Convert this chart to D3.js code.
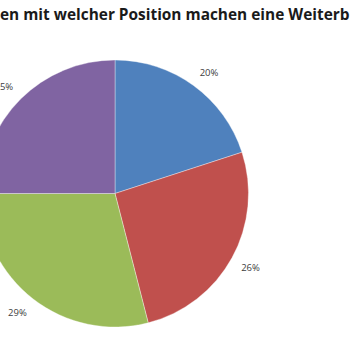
<!DOCTYPE html>
<html><head><meta charset="utf-8">
<script src="https://cdn.jsdelivr.net/npm/d3@7"></script>
<style>html,body{margin:0;padding:0;background:#fff;overflow:hidden}svg{display:block}</style>
</head><body>
<svg id="chart" width="350" height="350"></svg>
<script>
const titleText = "Wie viele Frauen mit welcher Position machen eine Weiterbildung?";
const titleHiddenLeft = "Wie viele Frau";
const titleVisible = "en mit welcher Position machen eine Weiterb";
const categories = ["Position A", "Position B", "Position C", "Position D"];
const values = [20, 26, 29, 25];
const colors = ["#4F81BD", "#C0504D", "#9BBB59", "#8064A2"];

const svg = d3.select("#chart");
const W = 350;
const cx = 115, cy = 193.5, r = 133.5, labelR = 144;

function measure(str, size) {
  const t = svg.append("text").attr("font-family", "Open Sans").attr("font-weight", "bold")
    .attr("font-size", size).text(str);
  const w = t.node().getComputedTextLength();
  t.remove();
  return w;
}
// title: sized and shifted so that the visible part spans the window width
const fs = 13 * W / measure(titleVisible, 13);
const off = measure(titleHiddenLeft, fs);
svg.append("text").attr("x", -off).attr("y", 20)
  .attr("font-family", "Open Sans").attr("font-weight", "bold").attr("font-size", fs)
  .attr("fill", "#1a1a1a").text(titleText);

const pie = d3.pie().sort(null).value(d => d.v);
const data = pie(categories.map((c, i) => ({c, v: values[i]})));
const arc = d3.arc().innerRadius(0).outerRadius(r);
const labelArc = d3.arc().innerRadius(labelR).outerRadius(labelR);

const g = svg.append("g").attr("transform", `translate(${cx},${cy})`);
g.selectAll("path").data(data).join("path")
  .attr("d", arc).attr("fill", (d, i) => colors[i])
  .attr("stroke", "#ffffff").attr("stroke-width", 0.6).attr("stroke-opacity", 0.6);

// outside-end labels: the label box sits just outside the arc, its nearest corner on the label radius
const lblH = 10;
g.selectAll("text.lbl").data(data).join("text").attr("class", "lbl")
  .attr("text-anchor", "middle").attr("dominant-baseline", "central")
  .attr("font-family", "Open Sans").attr("font-size", 9.5).attr("fill", "#404040")
  .text(d => d.data.v + "%")
  .each(function(d) {
    const w = this.getComputedTextLength();
    const [px, py] = labelArc.centroid(d);
    d3.select(this)
      .attr("x", px + Math.sign(px) * w / 2)
      .attr("y", py + Math.sign(py) * lblH / 2);
  });
</script>
</body></html>
